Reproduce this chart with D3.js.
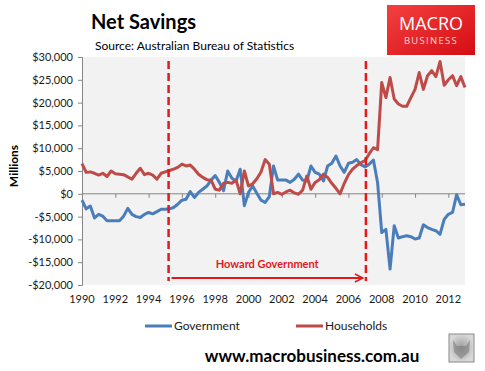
<!DOCTYPE html>
<html>
<head>
<meta charset="utf-8">
<script src="https://cdn.jsdelivr.net/npm/d3@7/dist/d3.min.js"></script>
<style>
  html, body { margin: 0; padding: 0; background: #fff; }
  svg { display: block; font-family: Lato, "Open Sans", sans-serif; }
</style>
</head>
<body>
<svg id="chart" width="485" height="371"></svg>
<script>
// ---- data (thousands of $ millions, quarterly 1990Q1 .. 2013Q1) ----
const yearLabels = ["1990","1992","1994","1996","1998","2000","2002","2004","2006","2008","2010","2012"];
const yTicks = [-20000,-15000,-10000,-5000,0,5000,10000,15000,20000,25000,30000];
const seriesNames = ["Government","Households"];
const government = [
  -1.4,-3.3,-2.7,-5.3,-4.5,-4.9,-5.9,-5.9,-5.9,-5.9,-4.9,-3.2,-4.5,-5.0,-5.2,-4.5,
  -4.1,-4.4,-3.9,-3.4,-3.4,-3.3,-3.0,-2.3,-1.4,-1.2,0.5,-0.8,0.3,1.0,1.7,3.0,
  4.0,2.5,0.7,5.0,3.4,2.8,5.4,-2.6,0.3,1.7,0.1,-1.4,-1.9,-0.6,6.1,3.0,
  3.0,3.0,2.5,3.2,4.3,3.0,2.8,6.1,4.7,4.3,2.8,6.1,6.7,8.3,6.1,4.7,
  6.7,6.9,7.5,6.4,5.9,6.5,7.4,2.5,-8.5,-7.8,-16.5,-7.0,-9.7,-9.4,-9.2,-9.4,
  -9.9,-9.7,-6.8,-7.4,-7.8,-8.1,-8.9,-5.6,-4.5,-4.1,-0.2,-2.4,-2.3
];
const households = [
  6.6,4.7,4.8,4.5,4.1,4.5,3.8,5.0,4.4,4.3,4.2,3.7,3.2,4.5,5.6,4.2,
  4.5,4.1,3.2,4.5,4.8,5.1,5.4,5.8,6.5,6.1,6.3,5.4,4.3,3.6,3.1,3.0,
  1.0,0.8,2.3,2.5,2.3,3.0,0.0,5.0,1.7,2.2,3.3,4.8,7.5,6.5,0.0,0.3,
  -0.1,0.4,0.8,0.2,-0.1,0.8,3.9,1.0,2.5,3.1,4.3,3.6,2.3,1.2,0.0,2.3,
  4.2,5.4,6.2,6.8,7.3,8.8,10.1,9.7,24.4,21.1,25.5,20.8,19.7,19.2,19.2,21.1,
  22.9,26.6,22.9,25.9,27.0,25.7,29.0,23.8,25.0,25.9,23.7,25.7,23.3
];
// annotation positions, in quarter index
const howardStart = 20.8, howardEnd = 68.2;
const annotationText = "Howard Government";

const colors = { Government: "#4a7ebb", Households: "#be4b48" };

const svg = d3.select("#chart");
const plot = { left: 82, right: 465, top: 57, bottom: 285 };

const x = d3.scaleLinear().domain([0, government.length - 1]).range([plot.left, plot.right]);
const y = d3.scaleLinear().domain([-20000, 30000]).range([plot.bottom, plot.top]);

// defs
const defs = svg.append("defs");
const lg = defs.append("linearGradient").attr("id","logoGrad").attr("x1","0").attr("y1","0").attr("x2","1").attr("y2","1");
lg.append("stop").attr("offset","0%").attr("stop-color","#f5403f");
lg.append("stop").attr("offset","100%").attr("stop-color","#d40d14");
const wg = defs.append("radialGradient").attr("id","wolfGrad");
wg.append("stop").attr("offset","0%").attr("stop-color","#9a9a9a");
wg.append("stop").attr("offset","100%").attr("stop-color","#d8d8d8");
defs.append("marker").attr("id","arrowHead").attr("viewBox","0 0 10 10")
  .attr("refX",9).attr("refY",5).attr("markerWidth",5).attr("markerHeight",5)
  .attr("markerUnits","strokeWidth").attr("orient","auto")
  .append("path").attr("d","M1,1 L9,5 L1,9").attr("fill","none").attr("stroke","#e3191c").attr("stroke-width",1.6);

// plot background
svg.append("rect").attr("x", plot.left).attr("y", plot.top)
  .attr("width", plot.right - plot.left).attr("height", plot.bottom - plot.top)
  .attr("fill", "#f2f2f2");

// y axis
const yAxis = d3.axisLeft(y).tickValues(yTicks).tickSize(4).tickPadding(5)
  .tickFormat(d => (d < 0 ? "-$" : "$") + d3.format(",")(Math.abs(d)));
const gy = svg.append("g").attr("transform", `translate(${plot.left},0)`).call(yAxis);
gy.select(".domain").attr("stroke", "#868686");
gy.selectAll(".tick line").attr("stroke", "#868686");
gy.selectAll(".tick text").attr("fill", "#1a1a1a").style("font-size", "11px").style("font-family","Lato, sans-serif");

// x axis on zero line
const labelIdx = yearLabels.map((d, k) => k * 8);
const xAxis = d3.axisBottom(x).tickValues(labelIdx).tickSize(4).tickFormat(() => "");
const gx = svg.append("g").attr("transform", `translate(0,${y(0)})`).call(xAxis);
gx.select(".domain").attr("stroke", "#868686").attr("d", `M${plot.left},0H${plot.right}`);
gx.selectAll(".tick line").attr("stroke", "#868686");

// x labels at the bottom
svg.append("g").selectAll("text").data(yearLabels).join("text")
  .attr("x", (d, k) => x(labelIdx[k])).attr("y", 303)
  .attr("text-anchor", "middle").attr("fill", "#1a1a1a")
  .style("font-size", "11px").text(d => d);

// lines
const line = d3.line().x((d, i) => x(i)).y(d => y(d * 1000));
[["Government", government], ["Households", households]].forEach(([name, vals]) => {
  svg.append("path").datum(vals).attr("d", line)
    .attr("fill", "none").attr("stroke", colors[name])
    .attr("stroke-width", 3).attr("stroke-linejoin", "round");
});

// annotation: dashed lines, arrow, text
[howardStart, howardEnd].forEach(q => {
  svg.append("line").attr("x1", x(q)).attr("x2", x(q)).attr("y1", 61).attr("y2", 281)
    .attr("stroke", "#e3191c").attr("stroke-width", 2.5).attr("stroke-dasharray", "8,4");
});
svg.append("line").attr("x1", x(howardStart) + 3).attr("x2", x(howardEnd) - 3)
  .attr("y1", 278).attr("y2", 278)
  .attr("stroke", "#e3191c").attr("stroke-width", 2).attr("marker-end", "url(#arrowHead)");
svg.append("text").attr("x", (x(howardStart) + x(howardEnd)) / 2).attr("y", 268)
  .attr("text-anchor", "middle").attr("fill", "#e3191c")
  .style("font-size", "11px").style("font-weight", "bold").text(annotationText);

// y title
svg.append("text").attr("transform", "translate(18,166) rotate(-90)")
  .attr("text-anchor", "middle").attr("fill", "#000")
  .style("font-size", "12px").style("font-weight", "bold").text("Millions");

// title and subtitle
svg.append("text").attr("x", 91).attr("y", 29).attr("fill", "#000")
  .style("font-size", "20px").style("font-weight", "bold").text("Net Savings");
svg.append("text").attr("x", 95).attr("y", 50).attr("fill", "#000")
  .style("font-size", "12px").text("Source: Australian Bureau of Statistics");

// logo
svg.append("rect").attr("x", 387).attr("y", 5).attr("width", 88).attr("height", 50).attr("fill", "url(#logoGrad)");
svg.append("text").attr("x", 431).attr("y", 30).attr("text-anchor", "middle").attr("fill", "#fff")
  .style("font-family", "'Open Sans', 'DejaVu Sans', sans-serif")
  .style("font-size", "18px").style("font-weight", "400").text("MACRO");
svg.append("text").attr("x", 431).attr("y", 44).attr("text-anchor", "middle").attr("fill", "#fcd6d6")
  .style("font-family", "'Open Sans', 'DejaVu Sans', sans-serif")
  .style("font-size", "9.5px").style("letter-spacing", "1.3px").text("BUSINESS");

// legend
const legend = [{ name: "Government", x1: 145 }, { name: "Households", x1: 296 }];
legend.forEach(l => {
  svg.append("line").attr("x1", l.x1).attr("x2", l.x1 + 27).attr("y1", 326).attr("y2", 326)
    .attr("stroke", colors[l.name]).attr("stroke-width", 3);
  svg.append("text").attr("x", l.x1 + 29).attr("y", 330).attr("fill", "#1a1a1a")
    .style("font-size", "12px").text(l.name);
});

// footer
svg.append("text").attr("x", 312).attr("y", 362).attr("text-anchor", "middle").attr("fill", "#000")
  .style("font-size", "17px").style("font-weight", "bold").text("www.macrobusiness.com.au");
svg.append("rect").attr("x", 449).attr("y", 334).attr("width", 25).attr("height", 28)
  .attr("fill", "url(#wolfGrad)").attr("stroke", "#8a8a8a").attr("stroke-width", 1);
svg.append("path").attr("d", "M453,340 L457,346 L466,346 L470,340 L469,352 L461,359 L454,352 Z")
  .attr("fill", "#7d7d7d").attr("opacity", 0.6);
</script>
</body>
</html>
